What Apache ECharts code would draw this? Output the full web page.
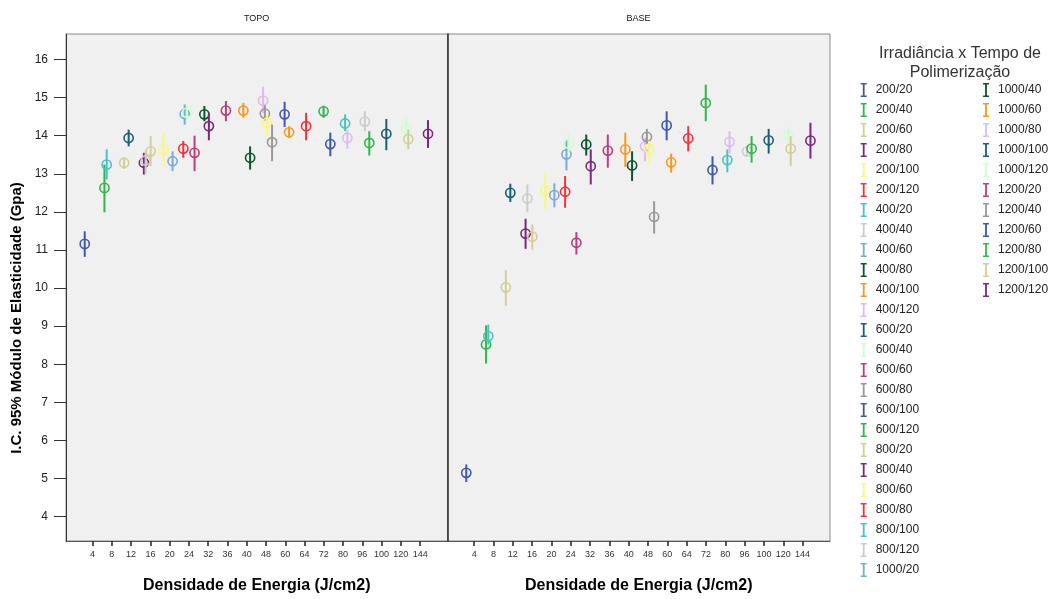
<!DOCTYPE html>
<html>
<head>
<meta charset="utf-8">
<script src="https://cdn.jsdelivr.net/npm/echarts@6/dist/echarts.min.js"></script>
<style>
  html, body { margin: 0; padding: 0; background: #ffffff; }
  #chart { width: 1062px; height: 599px; }
</style>
</head>
<body>
<div id="chart"></div>
<script>
// Energy-density categories (J/cm2) shown on both panels
const categories = ['4', '8', '12', '16', '20', '24', '32', '36', '40', '48', '60', '64', '72', '80', '96', '100', '120', '144'];

// Irradiance x curing-time groups, in legend order
const groups = [
  '200/20', '200/40', '200/60', '200/80', '200/100', '200/120',
  '400/20', '400/40', '400/60', '400/80', '400/100', '400/120',
  '600/20', '600/40', '600/60', '600/80', '600/100', '600/120',
  '800/20', '800/40', '800/60', '800/80', '800/100', '800/120',
  '1000/20', '1000/40', '1000/60', '1000/80', '1000/100', '1000/120',
  '1200/20', '1200/40', '1200/60', '1200/80', '1200/100', '1200/120'
];

// Energy-density category each group falls in
const groupCategory = [
  '4', '8', '12', '16', '20', '24',
  '8', '16', '24', '32', '40', '48',
  '12', '24', '36', '48', '60', '72',
  '16', '32', '48', '64', '80', '96',
  '20', '40', '60', '80', '100', '120',
  '24', '48', '72', '96', '120', '144'
];

// TOPO: mean and 95% CI of elastic modulus (GPa)
const topoMean = [
  11.16, 12.63, 13.29, 13.29, 13.64, 13.66,
  13.24, 13.35, 14.57, 14.56, 14.66, 14.92,
  13.94, 14.60, 14.66, 14.58, 14.56, 14.64,
  13.59, 14.25, 14.34, 14.25, 14.32, 14.37,
  13.33, 13.42, 14.09, 13.94, 14.05, 14.18,
  13.55, 13.83, 13.78, 13.81, 13.91, 14.05
];
const topoLow = [
  10.82, 11.99, 13.13, 12.98, 13.20, 13.42,
  12.85, 13.00, 14.29, 14.38, 14.47, 14.60,
  13.72, 14.35, 14.38, 14.40, 14.23, 14.47,
  13.20, 13.88, 13.99, 13.88, 14.12, 14.12,
  13.07, 13.11, 13.94, 13.66, 13.62, 13.90,
  13.07, 13.33, 13.46, 13.48, 13.64, 13.68
];
const topoHigh = [
  11.49, 13.24, 13.42, 13.55, 14.08, 13.86,
  13.64, 13.60, 14.82, 14.78, 14.86, 15.28,
  14.16, 14.82, 14.91, 14.80, 14.89, 14.79,
  13.99, 14.60, 14.56, 14.60, 14.56, 14.64,
  13.59, 13.72, 14.25, 14.16, 14.44, 14.47,
  14.00, 14.29, 14.08, 14.12, 14.16, 14.41
];

// BASE: mean and 95% CI of elastic modulus (GPa)
const baseMean = [
  5.15, 8.52, 10.02, 11.43, 12.56, 12.53,
  8.74, 12.35, 13.51, 13.77, 13.64, 13.72,
  12.50, 13.79, 13.61, 13.97, 14.27, 14.86,
  11.35, 13.20, 13.66, 13.93, 13.36, 13.59,
  12.44, 13.22, 13.30, 13.84, 13.88, 14.01,
  11.19, 11.87, 13.10, 13.66, 13.66, 13.87
];
const baseLow = [
  4.91, 8.02, 9.54, 11.03, 12.06, 12.11,
  8.52, 11.99, 13.09, 13.48, 13.18, 13.33,
  12.26, 13.55, 13.16, 13.77, 13.88, 14.38,
  11.01, 12.72, 13.24, 13.59, 13.04, 13.50,
  12.12, 12.81, 13.03, 13.53, 13.53, 13.86,
  10.88, 11.43, 12.72, 13.29, 13.20, 13.40
];
const baseHigh = [
  5.37, 9.02, 10.47, 11.82, 13.04, 12.94,
  9.04, 12.72, 13.90, 14.03, 14.08, 13.94,
  12.74, 14.06, 14.03, 14.18, 14.64, 15.34,
  11.67, 13.64, 13.86, 14.25, 13.64, 13.68,
  12.75, 13.59, 13.53, 14.12, 14.18, 14.22,
  11.47, 12.28, 13.46, 13.99, 13.99, 14.34
];

// Y-axis tick values
const yTicks = [4, 5, 6, 7, 8, 9, 10, 11, 12, 13, 14, 15, 16];

// Colour cycle for the groups
const palette = [
  '#3E58AC', '#2EB848', '#D3CE97', '#7C287D', '#FBF873', '#EF3338',
  '#48C2C5', '#CCCCCC', '#7AAAD5', '#0A562C', '#F8981D', '#DDBAF1',
  '#1A5F76', '#CCFFCC', '#BB3F7F', '#999999'
];

const FONT = '"Liberation Sans", Arial, sans-serif';
const CLUSTER = 0.84;   // share of a category used to dodge the groups side by side
const catIdx = categories.map((_, i) => i);

// Error bar with a hollow circle at the mean, dodged by group index
function errorBarItem(groupIndex) {
  const slot = (groupIndex + 0.5) / groups.length * CLUSTER - CLUSTER / 2;
  return function (params, api) {
    const c = api.value(0);
    const lo = api.coord([c, api.value(1)]);
    const mid = api.coord([c, api.value(2)]);
    const hi = api.coord([c, api.value(3)]);
    const x = mid[0] + slot * api.size([1, 0])[0];
    const color = api.visual('color');
    return {
      type: 'group',
      children: [
        { type: 'line', shape: { x1: x, y1: hi[1], x2: x, y2: lo[1] },
          style: { stroke: color, lineWidth: 2 } },
        { type: 'circle', shape: { cx: x, cy: mid[1], r: 4.6 },
          style: { fill: 'none', stroke: color, lineWidth: 1.6 } }
      ]
    };
  };
}

const series = [];
[[topoLow, topoMean, topoHigh], [baseLow, baseMean, baseHigh]].forEach((panel, p) => {
  const [low, mean, high] = panel;
  groups.forEach((g, i) => {
    series.push({
      type: 'custom',
      name: g,
      xAxisIndex: p,
      yAxisIndex: p,
      color: palette[i % palette.length],
      renderItem: errorBarItem(i),
      encode: { x: 0, y: [1, 2, 3] },
      data: [[categories.indexOf(groupCategory[i]), low[i], mean[i], high[i]]],
      z: 2 + i
    });
  });
});

const xAxisBase = (gridIndex) => ({
  type: 'value',
  gridIndex: gridIndex,
  min: -1.38,
  max: 18.42,
  name: 'Densidade de Energia (J/cm2)',
  nameLocation: 'middle',
  nameGap: 37,
  nameTextStyle: { fontFamily: FONT, fontSize: 16, fontWeight: 'bold', color: '#000' },
  axisLine: { show: true, onZero: false, lineStyle: { color: '#555', width: 1 } },
  axisTick: { show: true, customValues: catIdx, length: 5, lineStyle: { color: '#222', width: 1.5 } },
  axisLabel: {
    show: true, customValues: catIdx, margin: 9,
    fontFamily: FONT, fontSize: 9, color: '#333',
    formatter: (v) => categories[Math.round(v)]
  },
  splitLine: { show: false }
});

const yAxisBase = (gridIndex, withLabels) => ({
  type: 'value',
  gridIndex: gridIndex,
  min: 3.36,
  max: 16.67,
  axisLine: { show: true, onZero: false, lineStyle: { color: '#333', width: withLabels ? 1 : 1.6 } },
  axisTick: { show: withLabels, customValues: yTicks, length: 12, lineStyle: { color: '#333', width: 1 } },
  axisLabel: { show: withLabels, customValues: yTicks, margin: 18, fontFamily: FONT, fontSize: 12, color: '#222' },
  splitLine: { show: false }
});

const legendBase = {
  orient: 'vertical',
  icon: 'path://M0,0H6V1.6H3.9V12.4H6V14H0V12.4H2.1V1.6H0Z',
  itemWidth: 14,
  itemHeight: 14,
  itemGap: 6,
  padding: 0,
  textStyle: { fontFamily: FONT, fontSize: 12, color: '#222' }
};

const chart = echarts.init(document.getElementById('chart'), null, { renderer: 'canvas' });
chart.setOption({
  animation: false,
  backgroundColor: '#ffffff',
  grid: [
    { left: 66, top: 34, right: 614.5, bottom: 57, show: true,
      backgroundColor: '#F0F0F0', borderColor: '#8a8a8a', borderWidth: 1 },
    { left: 447.5, top: 34, right: 232, bottom: 57, show: true,
      backgroundColor: '#F0F0F0', borderColor: '#8a8a8a', borderWidth: 1 }
  ],
  xAxis: [xAxisBase(0), xAxisBase(1)],
  yAxis: [yAxisBase(0, true), yAxisBase(1, false)],
  legend: [
    Object.assign({}, legendBase, { left: 860.7, top: 83, data: groups.slice(0, 25) }),
    Object.assign({}, legendBase, { left: 983, top: 83, data: groups.slice(25) })
  ],
  graphic: [
    { type: 'text', x: 256.7, y: 19,
      style: { text: 'TOPO', font: '9px ' + FONT, fill: '#111', align: 'center', verticalAlign: 'middle' } },
    { type: 'text', x: 638.5, y: 19,
      style: { text: 'BASE', font: '9px ' + FONT, fill: '#111', align: 'center', verticalAlign: 'middle' } },
    { type: 'text', x: 17, y: 318, rotation: Math.PI / 2,
      style: { text: 'I.C. 95% Módulo de Elasticidade (Gpa)', font: 'bold 15px ' + FONT,
               fill: '#000', align: 'center', verticalAlign: 'middle' } },
    { type: 'text', x: 960, y: 63,
      style: { text: 'Irradiância x Tempo de\nPolimerização', font: '16px ' + FONT,
               lineHeight: 19, fill: '#333', align: 'center', verticalAlign: 'middle' } }
  ],
  series: series
});
</script>
</body>
</html>
